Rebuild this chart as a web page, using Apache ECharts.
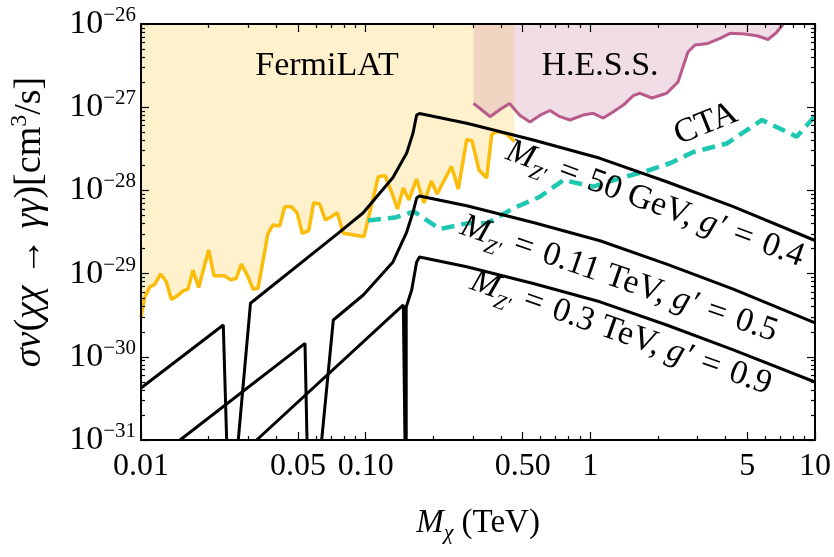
<!DOCTYPE html>
<html lang="en">
<head>
<meta charset="UTF-8">
<title>sigma v limits</title>
<script src="https://cdn.jsdelivr.net/npm/echarts@6/dist/echarts.min.js"></script>
<style>
    html, body { margin: 0; padding: 0; background: #fff; }
    #chart { width: 834px; height: 557px; }
</style>
</head>
<body>
<div id="chart"></div>
<script type="text/javascript">
    // values: M_chi in TeV, sigma v in cm^3/s
    var fermiX = [0.0100, 0.01039, 0.01093, 0.01151, 0.01224, 0.01296, 0.01364, 0.01451, 0.01538, 0.01619,
        0.01704, 0.01806, 0.02001, 0.02113, 0.02358, 0.02507, 0.02655, 0.02795, 0.02972, 0.03151,
        0.03318, 0.03675, 0.03868, 0.04144, 0.04361, 0.04667, 0.04946, 0.05224, 0.05577, 0.05870,
        0.06242, 0.06612, 0.07031, 0.07475, 0.07951, 0.09436, 0.09831, 0.1138, 0.1219, 0.1323,
        0.1386, 0.1471, 0.1559, 0.1683, 0.1818, 0.1963, 0.2077, 0.2410, 0.2584, 0.2817,
        0.2974, 0.3194, 0.3457, 0.3639, 0.3843, 0.4214, 0.4596];
    var fermiY = [3.0e-30, 5.2e-30, 6.9e-30, 7.4e-30, 9.9e-30, 8.0e-30, 4.9e-30, 5.4e-30, 6.2e-30, 6.5e-30,
        1.10e-29, 6.8e-30, 1.92e-29, 9.4e-30, 9.4e-30, 8.4e-30, 8.8e-30, 1.30e-29, 9.6e-30, 6.5e-30,
        6.65e-30, 3.05e-29, 3.84e-29, 3.73e-29, 6.37e-29, 6.37e-29, 5.40e-29, 3.05e-29, 3.28e-29, 7.11e-29,
        6.87e-29, 4.41e-29, 4.83e-29, 5.40e-29, 3.05e-29, 2.83e-29, 2.8e-29, 1.46e-28, 1.51e-28, 8.57e-29,
        5.98e-29, 1.07e-28, 7.67e-29, 1.37e-28, 7.06e-29, 1.30e-28, 9.06e-29, 1.94e-28, 1.04e-28, 4.09e-28,
        3.93e-28, 1.76e-28, 1.41e-28, 4.70e-28, 5.11e-28, 4.83e-28, 3.87e-28];

    var hessX = [0.3020, 0.3228, 0.3576, 0.3962, 0.4367, 0.4863, 0.5387, 0.6074, 0.6612, 0.7325,
        0.8117, 0.9275, 1.031, 1.142, 1.265, 1.402, 1.553, 1.663, 1.881, 2.187,
        2.455, 2.720, 2.923, 3.339, 3.777, 4.183, 4.880, 5.575, 6.177, 6.705, 7.240];
    var hessY = [1.11e-27, 9.65e-28, 7.69e-28, 9.38e-28, 1.11e-27, 7.95e-28, 6.64e-28, 8.21e-28, 9.13e-28, 7.69e-28,
        7.02e-28, 8.05e-28, 8.45e-28, 7.41e-28, 8.83e-28, 1.06e-27, 1.38e-27, 1.47e-27, 1.29e-27, 1.47e-27,
        2.01e-27, 4.61e-27, 5.59e-27, 5.83e-27, 6.73e-27, 7.73e-27, 7.58e-27, 7.18e-27, 6.51e-27, 7.79e-27, 1.0e-26];

    var ctaX = [0.1024, 0.1351, 0.1641, 0.2142, 0.2825, 0.3467, 0.4525, 0.5969, 0.7596, 1.028,
        1.355, 1.843, 2.262, 2.872, 4.045, 5.808, 8.290, 10.0];
    var ctaY = [4.35e-29, 4.72e-29, 5.55e-29, 3.44e-29, 4.02e-29, 4.02e-29, 6.06e-29, 8.40e-29, 1.33e-28, 1.11e-28,
        1.40e-28, 1.76e-28, 2.12e-28, 2.89e-28, 3.66e-28, 7.02e-28, 4.42e-28, 7.84e-28];

    // model curves, null = curve drops out below the frame (resonance)
    var zp50X = [0.0100, 0.02324, 0.02406, 0.0256, 0.02710, 0.03071, 0.07528, 0.09730, 0.1323, 0.1523,
        0.1625, 0.1686, 0.1736, 0.2817, 0.5574, 1.104, 2.187, 4.328, 10.0];
    var zp50Y = [4.22e-31, 2.41e-30, 1e-31, null, 1e-31, 4.40e-30, 3.05e-29, 5.35e-29, 1.43e-28, 2.81e-28,
        4.90e-28, 8.05e-28, 8.40e-28, 6.41e-28, 4.04e-28, 2.43e-28, 1.27e-28, 6.37e-29, 2.50e-29];

    var zp110X = [0.01492, 0.05370, 0.05482, 0.059, 0.06371, 0.07177, 0.09761, 0.1323, 0.1523, 0.1625,
        0.1686, 0.1736, 0.2817, 0.5574, 1.104, 2.187, 4.328, 10.0];
    var zp110Y = [1e-31, 1.45e-30, 1e-31, null, 1e-31, 2.77e-30, 5.53e-30, 1.38e-29, 3.16e-29, 5.50e-29,
        8.10e-29, 8.57e-29, 6.53e-29, 4.11e-29, 2.48e-29, 1.30e-29, 6.49e-30, 2.55e-30];

    var zp300X = [0.03273, 0.1471, 0.1496, 0.1506, 0.1515, 0.1515, 0.1603, 0.1686, 0.1736, 0.2817,
        0.5574, 1.104, 2.187, 4.328, 10.0];
    var zp300Y = [1e-31, 4.20e-30, 1e-31, null, 1e-31, 3.97e-30, 6.35e-30, 1.38e-29, 1.58e-29, 1.21e-29,
        7.60e-30, 4.58e-30, 2.41e-30, 1.21e-30, 4.98e-31];

    // ticks
    var xTickVals = [0.01, 0.05, 0.1, 0.5, 1, 5, 10];
    var xTickText = ['0.01', '0.05', '0.10', '0.50', '1', '5', '10'];
    var yTickExp = [-31, -30, -29, -28, -27, -26];

    var FONT = 'Liberation Serif';

    // frame ticks are drawn on linear "exponent" axes that line up with the log data axes
    var xMajorExp = xTickVals.map(function (v) { return Math.log10(v); });
    var xMinorExp = [];
    [-2, -1, 0].forEach(function (d) {
        [2, 3, 4, 6, 7, 8, 9].forEach(function (k) { xMinorExp.push(d + Math.log10(k)); });
    });
    var yMinorExp = [];
    for (var e = -31; e < -26; e++) {
        for (var k = 2; k <= 9; k++) yMinorExp.push(e + Math.log10(k));
    }

    function pairs(xs, ys) {
        return xs.map(function (x, i) { return [x, ys[i] === null ? '-' : ys[i]]; });
    }

    function nearest(vals, v) {
        var best = 0;
        for (var i = 1; i < vals.length; i++) {
            if (Math.abs(vals[i] - v) < Math.abs(vals[best] - v)) best = i;
        }
        return best;
    }

    function frameAxis(kind, pos, ticks, len, main) {
        return {
            type: 'value', position: pos,
            min: kind === 'x' ? -2 : -31,
            max: kind === 'x' ? 1 : -26,
            axisLine: {show: main, onZero: false, lineStyle: {color: '#000', width: 2}},
            axisTick: {show: true, inside: true, length: len, customValues: ticks,
                lineStyle: {color: '#000', width: 1.2}},
            axisLabel: {show: false},
            splitLine: {show: false},
            minorTick: {show: false},
            z: 10
        };
    }

    var xMain = frameAxis('x', 'bottom', xMajorExp, 8, true);
    xMain.axisLabel = {
        show: true, customValues: xMajorExp, margin: 11,
        color: '#000', fontFamily: FONT, fontSize: 32,
        formatter: function (v) { return xTickText[nearest(xMajorExp, v)]; }
    };
    xMain.name = '{i|M}{sub|χ} (TeV)';
    xMain.nameLocation = 'middle';
    xMain.nameGap = 62;
    xMain.nameTextStyle = {
        color: '#000', fontFamily: FONT, fontSize: 33, lineHeight: 42,
        rich: {
            i: {fontFamily: FONT, fontStyle: 'italic', fontSize: 33, lineHeight: 42},
            sub: {fontFamily: FONT, fontStyle: 'italic', fontSize: 22, lineHeight: 22, verticalAlign: 'bottom'}
        }
    };

    var yMain = frameAxis('y', 'left', yTickExp, 8, true);
    yMain.axisLabel = {
        show: true, customValues: yTickExp, margin: 5,
        color: '#000', fontFamily: FONT,
        formatter: function (v) { return '{b|10}{s|−' + (-yTickExp[nearest(yTickExp, v)]) + '}'; },
        rich: {
            b: {fontFamily: FONT, fontSize: 34, lineHeight: 38, color: '#000'},
            s: {fontFamily: FONT, fontSize: 21, lineHeight: 22, verticalAlign: 'top', color: '#000'}
        }
    };

    // log axes that carry the data (not drawn)
    var xData = {type: 'log', logBase: 10, min: 0.01, max: 10, show: false, position: 'bottom'};
    var yData = {type: 'log', logBase: 10, min: 1e-31, max: 1e-26, show: false, position: 'left'};

    // M_Z' labels along the model curves
    var labelRich = {
        m: {fontFamily: FONT, fontStyle: 'italic', fontSize: 34, lineHeight: 46, fill: '#000'},
        z: {fontFamily: FONT, fontStyle: 'italic', fontSize: 21, lineHeight: 22, verticalAlign: 'bottom', fill: '#000'},
        n: {fontFamily: FONT, fontSize: 34, lineHeight: 46, fill: '#000'}
    };
    function curveLabel(txt, x, y, rot) {
        return {
            type: 'text', x: x, y: y, rotation: rot, silent: true, z: 100,
            style: {text: txt, rich: labelRich, align: 'center', verticalAlign: 'middle', fill: '#000'}
        };
    }
    function plainLabel(txt, x, y, rot) {
        return {
            type: 'text', x: x, y: y, rotation: rot || 0, silent: true, z: 100,
            style: {text: txt, fontFamily: FONT, fontSize: 34, fill: '#000', align: 'center', verticalAlign: 'middle'}
        };
    }

    function lineSeries(name, data, color, width, extra) {
        var s = {
            name: name, type: 'line', data: data, xAxisIndex: 0, yAxisIndex: 0,
            symbol: 'none', silent: true, connectNulls: false, clip: true,
            lineStyle: {color: color, width: width}
        };
        for (var key in extra) s[key] = extra[key];
        return s;
    }

    var eq = '\u2004=\u2004';
    var chart = echarts.init(document.getElementById('chart'), null, {renderer: 'canvas'});
    var option = {
        animation: false,
        backgroundColor: '#fff',
        grid: {left: 141, right: 19, top: 24, bottom: 117, containLabel: false},
        xAxis: [
            xData,
            xMain,
            frameAxis('x', 'bottom', xMinorExp, 4, false),
            frameAxis('x', 'top', xMajorExp, 8, true),
            frameAxis('x', 'top', xMinorExp, 4, false)
        ],
        yAxis: [
            yData,
            yMain,
            frameAxis('y', 'left', yMinorExp, 4, false),
            frameAxis('y', 'right', yTickExp, 8, true),
            frameAxis('y', 'right', yMinorExp, 4, false)
        ],
        series: [
            lineSeries('FermiLAT', pairs(fermiX, fermiY), '#fcbc0a', 3.5,
                {areaStyle: {origin: 1e-26, color: '#fef1cc', opacity: 1}, z: 2}),
            lineSeries('H.E.S.S.', pairs(hessX, hessY), '#b85a8a', 3,
                {areaStyle: {origin: 1e-26, color: 'rgba(203,129,162,0.27)', opacity: 1}, z: 2}),
            lineSeries('CTA', pairs(ctaX, ctaY), '#1ec8b0', 4.5,
                {lineStyle: {color: '#1ec8b0', width: 4.5, type: [13, 7]}, z: 3}),
            lineSeries('50 GeV', pairs(zp50X, zp50Y), '#000', 3, {z: 4}),
            lineSeries('0.11 TeV', pairs(zp110X, zp110Y), '#000', 3, {z: 4}),
            lineSeries('0.3 TeV', pairs(zp300X, zp300Y), '#000', 3, {z: 4})
        ],
        graphic: [
            plainLabel('FermiLAT', 327, 66),
            plainLabel('H.E.S.S.', 600, 66),
            plainLabel('CTA', 706, 124, 0.38),
            curveLabel('{m|M}{z|Z′}{n|' + eq + '50 GeV, }{m|g′}{n|' + eq + '0.4}', 655, 204, -0.35),
            curveLabel('{m|M}{z|Z′}{n|' + eq + '0.11 TeV, }{m|g′}{n|' + eq + '0.5}', 619, 279, -0.33),
            curveLabel('{m|M}{z|Z′}{n|' + eq + '0.3 TeV, }{m|g′}{n|' + eq + '0.9}', 621, 333, -0.34),
            {
                type: 'text', x: 30, y: 222, rotation: Math.PI / 2, silent: true, z: 100,
                style: {
                    text: '{i|σv}{n|(}{i|χχ}{n| → }{i|γγ}{n|)[cm}{s|3}{n|/s]}',
                    align: 'center', verticalAlign: 'middle', fill: '#000',
                    rich: {
                        i: {fontFamily: FONT, fontStyle: 'italic', fontSize: 38, lineHeight: 44, fill: '#000'},
                        n: {fontFamily: FONT, fontSize: 38, lineHeight: 44, fill: '#000'},
                        s: {fontFamily: FONT, fontSize: 24, lineHeight: 24, verticalAlign: 'top', fill: '#000'}
                    }
                }
            }
        ]
    };
    chart.setOption(option);
</script>
</body>
</html>
